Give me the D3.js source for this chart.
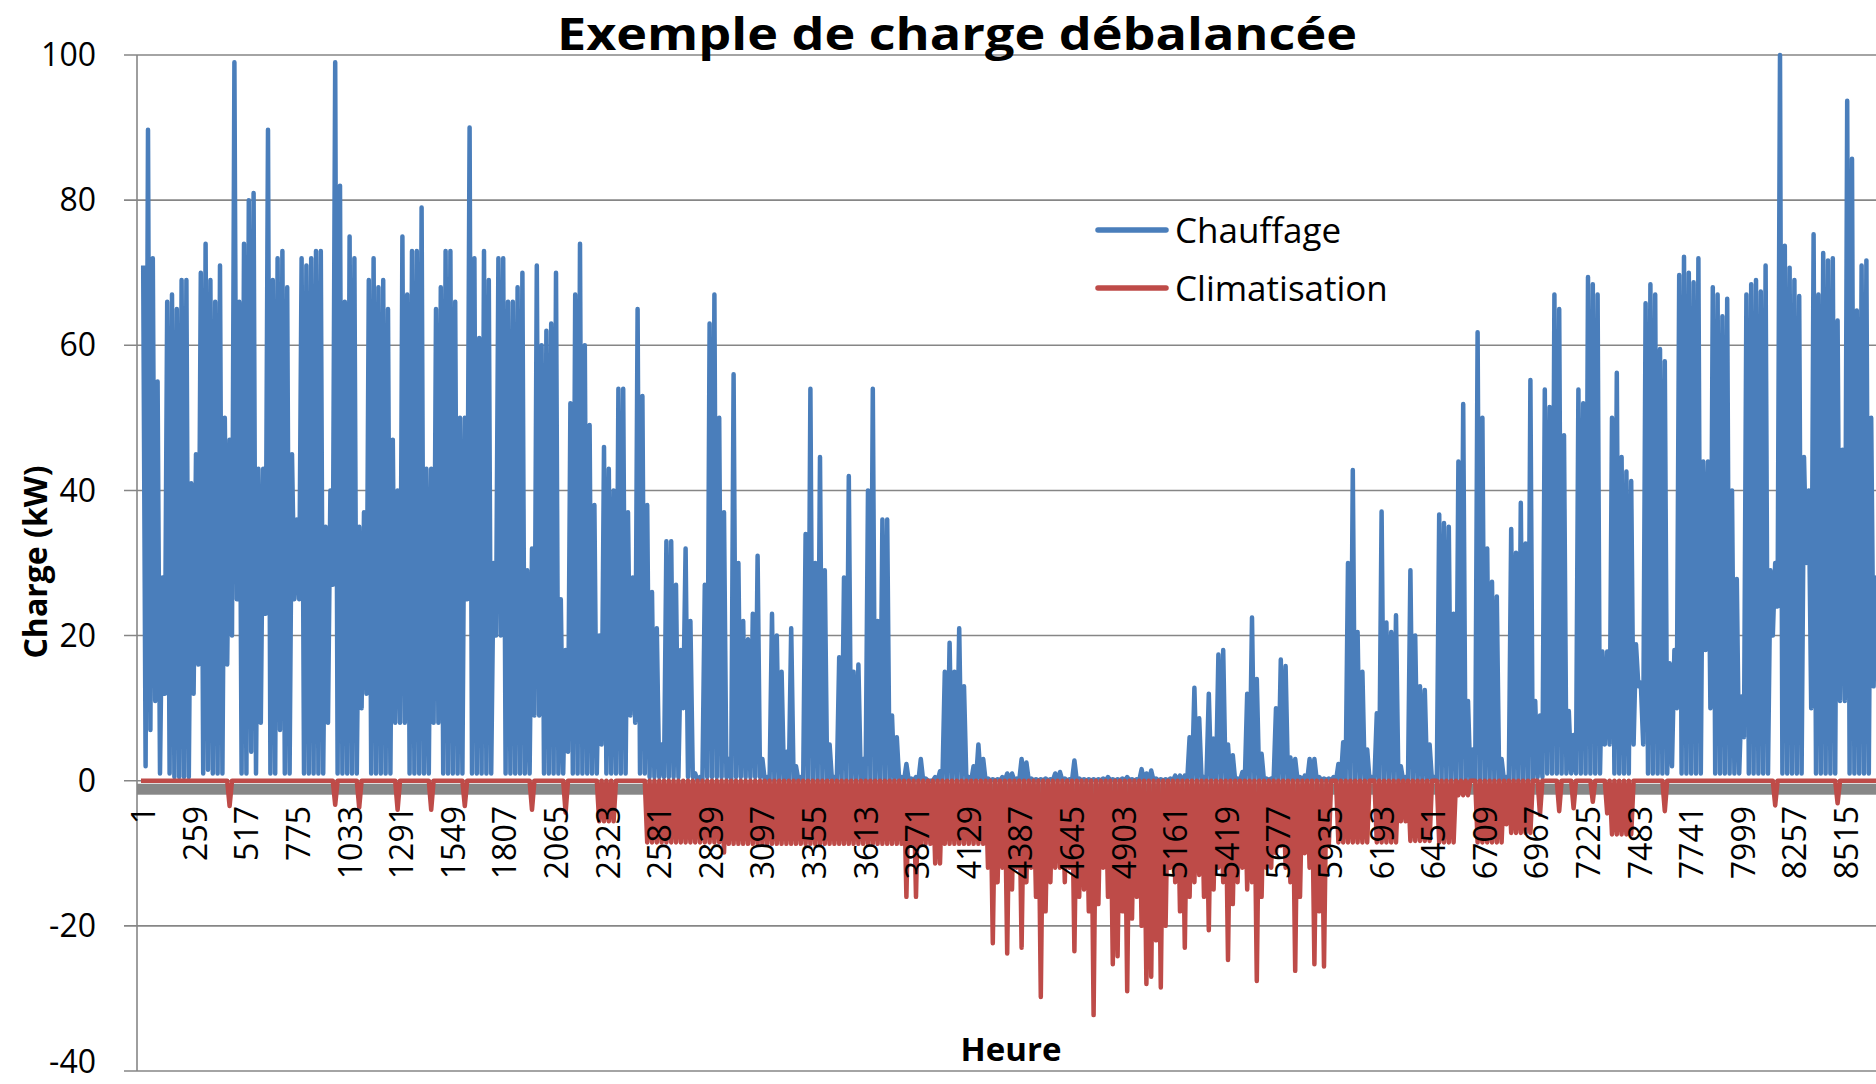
<!DOCTYPE html>
<html><head><meta charset="utf-8">
<script src="https://cdn.jsdelivr.net/npm/d3@7/dist/d3.min.js"></script>
<style>body{margin:0;background:#fff}svg{display:block}</style>
</head><body>
<svg id="chart" width="1876" height="1084"></svg>
<script>
const chartTitle = "Exemple de charge débalancée";
const yAxisTitle = "Charge (kW)";
const xAxisTitle = "Heure";
const seriesNames = ["Chauffage", "Climatisation"];
const yTicks = [-40, -20, 0, 20, 40, 60, 80, 100];
const xTickLabels = [1,259,517,775,1033,1291,1549,1807,2065,2323,2581,2839,3097,3355,3613,3871,4129,4387,4645,4903,5161,5419,5677,5935,6193,6451,6709,6967,7225,7483,7741,7999,8257,8515];

// Chauffage: daily maximum (kW), day 0 = hours 1-24
const heatMax = [
71,89.7,72,55,28,66,67,65,69,69,
41,45,70,74,69,66,71,50,47,99,
66,74,80,81,43,43,89.7,69,72,73,
68,45,36,72,71,72,73,73,35,40,
99,82,66,75,72,35,37,69,72,68,
69,65,47,40,75,67,73,73,79,43,
43,65,68,73,73,66,50,50,90,72,
61,73,69,30,72,72,66,66,68,70,
29,32,71,60,62,63,70,25,18,52,
67,74,60,49,38,20,46,43,40,54,
54,37,28,65,53,38,26,21,5,33,
33,27,18,32,22,1,0.5,27,63,67,
50,37,3,56,30,22,19.5,23,31,3,
0.5,23,20,15,4,21,2,0.5,34,54,
30,44.6,29,5,0.5,17,28,42,15,16,
3,40,54,22,36,36,9,6,0.5,2.3,
0.3,0.5,3,0.3,0,0.5,1.3,15,19,15,
21,13,0.5,2,5,3,0.3,0.2,0.2,0.5,
1,1,0.3,3,2.5,0.3,0.2,0.2,0.3,0.2,
1,1.2,0.3,0.2,2.8,0.3,0.2,0.2,0.2,0.2,
0.3,0.5,0.2,0.2,0.3,0.5,0.2,0.2,1.6,1,
1.4,0.3,0.2,0.2,0.3,0.7,0.7,0.7,6,12.8,
8.6,0.5,12,5.8,17.4,18,5,3.5,0.3,1.2,
12,22.5,14,3.7,0.3,0.3,10,16.7,15.8,3.2,
3,0.5,0.7,3,3,0.5,0.3,0.3,0.5,2.3,
5.3,30,42.8,20.5,15,4.3,0.5,9.3,37.1,21.8,
20.5,22.8,2,0.5,29,20,13,12.5,5,0.5,
36.7,35.5,35,23,44,51.9,11,4.3,61.8,50,
32,27.4,25.4,3,0.5,34.7,31.4,38.3,32.7,55.2,
11,9,53.9,51.5,67,65,47.6,9.6,6.3,53.9,
52,69.4,68.4,67,17.8,17.8,50,56.2,44.6,42.6,
41.3,18.8,13.5,65.8,68.4,67,59.5,57.8,16.2,18,
69.7,72.2,70,68.7,72,44,44,68,67,64,
66.4,40,27.8,11.6,67,68.4,69,67.4,71,29,
30,100,73.7,70.7,69,66.8,44.6,40,75.3,67,
72.7,71.7,72,63.4,45.6,93.7,85.7,64.8,71,71.7,
50,28
];

// Chauffage: daily minimum (kW)
const heatMin = [
2,7,11,1,12,1,0.5,0.5,0.5,0.5,
12,16,1,1.5,1,1,1,16,20,25,
1,1,4,1,8,23,1,1,7,1,
1,25,25,1,1,1,1,1,8,27,
1,1,1,1,1,10,12,1,1,1,
1,1,8,8,8,1,1,1,1,1,
8,8,1,1,1,1,1,25,1,1,
1,1,1,20,20,1,1,1,1,1,
1,9,9,1,1,1,1,1,4,1,
1,1,1,1,1,5,1,1,1,1,
1,9,8,1,1,0.5,0.5,0.5,0.5,0.5,
0.5,0.5,10,0.5,0.5,0,0,0.5,0.5,0.5,
0.5,0.5,0,0.5,0.5,0.5,0.5,0.5,0.5,0,
0,0,0,0,0,0,0,0,0,0,
0,0,0,0,0,0,0,0,0,0,
0,0,0,0,0,0,0,0,0,0,
0,0,0,0,0,0,0,0,0,0,
0,0,0,0,0,0,0,0,0,0,
0,0,0,0,0,0,0,0,0,0,
0,0,0,0,0,0,0,0,0,0,
0,0,0,0,0,0,0,0,0,0,
0,0,0,0,0,0,0,0,0,0,
0,0,0,0,0,0,0,0,0,0,
0,0,0,0,0,0,0,0,0,0,
0,0,0,0,0,0,0,0,0,0,
0,0,0,0,0,0,0,0,0,0,
0,0,0,0,0,0,0,0,0,0,
0,0,0,0,0,0,0,0,0,0,
0,0,0,0,0,0,0,0,0,0,
0.5,0.5,1,1,1,1,1,1,1,1,
1,1,1,1,5,5,1,1,1,1,
5,13,5,1,1,1,1,1,2,10,
1,1,1,1,1,18,10,1,1,1,
1,1,1,6,1,1,1,1,1,20,
24,1,1,1,1,1,30,10,1,1,
1,1,1,11,11,1,1,1,1,1,
13,13
];

// Climatisation: daily minimum (kW, negative); it comes back to 0 every day
const coolMin = [
0,0,0,0,0,0,0,0,0,0,
0,0,0,0,0,0,0,0,-3.5,0,
0,0,0,0,0,0,0,0,0,0,
0,0,0,0,0,0,0,0,0,0,
-3.3,0,0,0,0,-3.7,0,0,0,0,
0,0,0,-4,0,0,0,0,0,0,
-4,0,0,0,0,0,0,-3.5,0,0,
0,0,0,0,0,0,0,0,0,0,
0,-4,0,0,0,0,0,0,-4.4,0,
0,0,0,0,0,-5.6,-5.6,-5.6,-5.6,0,
0,0,0,0,0,-8.5,-8.5,-8.5,-8.5,-8.5,
-8.5,-8.5,-8.5,-8.5,-8.5,-8.5,-8.5,-8.5,-8.5,-8.5,
-8.5,-9.9,-8.7,-8.7,-8.7,-8.7,-8.7,-8.7,-8.7,-8.7,
-8.7,-8.7,-8.7,-8.7,-8.7,-8.7,-8.7,-8.7,-8.7,-8.7,
-8.7,-8.7,-8.7,-8.7,-8.7,-8.7,-8.7,-8.7,-8.7,-8.7,
-8.7,-8.7,-8.7,-8.7,-8.7,-8.7,-8.7,-8.7,-8.7,-16,
-8.7,-16,-8.7,-8.7,-8.7,-11.4,-11.4,-8.7,-8.7,-8.7,
-8.7,-8.7,-8.7,-8.7,-8.7,-8.7,-12,-22.4,-14,-12,
-23.8,-15,-12,-23,-14,-12,-16,-29.8,-18,-14,
-12,-12,-14,-12,-23.5,-16,-15,-18,-32.3,-17,
-12,-16,-25.3,-24.2,-18,-29,-19,-16,-20,-28,
-27,-22,-28.5,-20,-12,-14,-18,-23,-16,-14,
-13,-16,-20.6,-15,-12,-14,-24.7,-17,-14,-12,
-15,-14,-27.6,-16,-12,-12,-10,-9,-12,-14,
-26.2,-16,-10,-12,-25.3,-18,-25.6,-9,0,-8.5,
-8.5,-8.5,-8.5,-8.5,-8.5,-8.5,0,-8.5,-8.5,-8.5,
-8.5,-8.5,-5.6,-5.6,-8.3,-8.3,-8.3,-8.3,-8.3,0,
-8.5,-8.5,-8.5,-8.5,-2,-2,-2,0,-8.5,-8.5,
-8.5,-8.5,-8.5,-8.5,-6,-7.2,-7.2,-7.2,-7.2,-7.2,
0,-4.7,0,0,0,-4.2,0,0,-3.8,0,
0,0,-2.9,0,0,-4.5,-7.4,-7.4,-7.4,-7.4,
-7.4,0,0,0,0,0,0,-4.2,0,0,
0,0,0,0,0,0,0,0,0,0,
0,0,0,0,0,0,0,0,0,0,
-3.4,0,0,0,0,0,0,0,0,0,
0,0,0,-3.1,0,0,0,0,0,0,
0,0
];
const coolDailyMax = 0;
const hoursPerDay = 24;
const totalHours = 8760;

const colors = {heat: "#4A7EBB", cool: "#BE4B48", grid: "#868686", band: "#878787"};
const FONT = "'Open Sans', 'Noto Sans', sans-serif";

const svg = d3.select("#chart");
const x = d3.scaleLinear().domain([1, totalHours]).range([141, 141 + (totalHours - 1) * 0.2]);
const y = d3.scaleLinear().domain([-40, 100]).range([1071, 55]);
const axisX = 137, rightEdge = 1876;

svg.append("defs").append("clipPath").attr("id", "plotClip")
  .append("rect").attr("x", axisX).attr("y", 0).attr("width", rightEdge - axisX).attr("height", 1084);

// gridlines + ticks
svg.append("g").selectAll("line").data(yTicks).join("line")
  .attr("x1", axisX - 13).attr("x2", rightEdge)
  .attr("y1", d => y(d)).attr("y2", d => y(d))
  .attr("stroke", colors.grid).attr("stroke-width", 1.6);

// y tick labels (lowest one nudged up so it stays inside the page)
svg.append("g").selectAll("text").data(yTicks).join("text")
  .attr("x", 96).attr("y", d => y(d) - (d === yTicks[0] ? 9 : 0)).attr("dy", "0.35em")
  .attr("text-anchor", "end").attr("font-family", FONT).attr("font-size", 32)
  .attr("fill", "#000").text(d => d);

// thick grey horizontal axis band under zero
svg.append("rect").attr("x", axisX).attr("width", rightEdge - axisX)
  .attr("y", y(0) + 3).attr("height", 11).attr("fill", colors.band);

// series
const heatPts = heatMax.flatMap((v, d) => [[d * hoursPerDay + 12, v], [d * hoursPerDay + 24, heatMin[d]]]);
const coolPts = coolMin.flatMap((v, d) => [[d * hoursPerDay + 12, v], [d * hoursPerDay + 24, coolDailyMax]]);
const line = d3.line().x(p => x(p[0])).y(p => y(p[1]));

const series = svg.append("g").attr("clip-path", "url(#plotClip)");
series.append("path").attr("d", line(heatPts)).attr("fill", "none")
  .attr("stroke", colors.heat).attr("stroke-width", 4.5).attr("stroke-linejoin", "round");
series.append("path").attr("d", line([[1, coolDailyMax]].concat(coolPts))).attr("fill", "none")
  .attr("stroke", colors.cool).attr("stroke-width", 4.5).attr("stroke-linejoin", "round");

// vertical axis line
svg.append("line").attr("x1", axisX).attr("x2", axisX).attr("y1", y(100)).attr("y2", y(-40))
  .attr("stroke", colors.grid).attr("stroke-width", 1.6);

// x tick labels (rotated)
svg.append("g").selectAll("text").data(xTickLabels).join("text")
  .attr("transform", d => `translate(${x(d) + 3},806) rotate(-90)`)
  .attr("dy", "0.35em").attr("text-anchor", "end")
  .attr("font-family", FONT).attr("font-size", 32).attr("fill", "#000").text(d => d);

// title
svg.append("text").attr("x", 957).attr("y", 50).attr("text-anchor", "middle")
  .attr("font-family", FONT).attr("font-weight", 700).attr("font-size", 44)
  .attr("textLength", 800).attr("lengthAdjust", "spacingAndGlyphs")
  .attr("fill", "#000").text(chartTitle);

// axis titles
svg.append("text").attr("transform", "translate(47,562) rotate(-90)").attr("text-anchor", "middle")
  .attr("font-family", FONT).attr("font-weight", 700).attr("font-size", 32).attr("fill", "#000")
  .text(yAxisTitle);
svg.append("text").attr("x", 1011).attr("y", 1061).attr("text-anchor", "middle")
  .attr("font-family", FONT).attr("font-weight", 700).attr("font-size", 33).attr("fill", "#000")
  .text(xAxisTitle);

// legend
const legend = svg.append("g");
const legendY = [230, 288];
const legendColors = [colors.heat, colors.cool];
seriesNames.forEach((name, i) => {
  legend.append("line").attr("x1", 1098).attr("x2", 1166).attr("y1", legendY[i]).attr("y2", legendY[i])
    .attr("stroke", legendColors[i]).attr("stroke-width", 5.5).attr("stroke-linecap", "round");
  legend.append("text").attr("x", 1175).attr("y", legendY[i]).attr("dy", "0.36em")
    .attr("font-family", FONT).attr("font-size", 35).attr("fill", "#000").text(name);
});
</script>
</body></html>
